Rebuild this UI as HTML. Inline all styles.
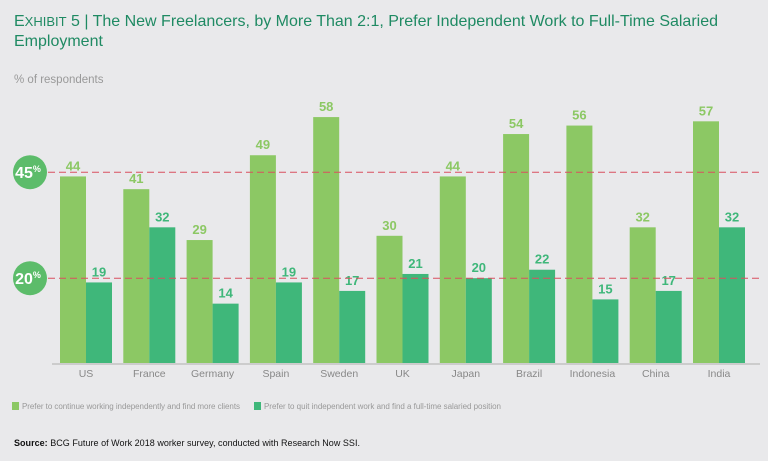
<!DOCTYPE html>
<html><head><meta charset="utf-8"><style>
body{margin:0;width:768px;height:461px;background:#e9e9eb;font-family:"Liberation Sans",sans-serif;overflow:hidden}
svg{display:block}
</style></head><body>
<svg width="768" height="461">
<text x="14" y="26" font-size="16" fill="#1f8a63" textLength="704">E<tspan font-size="13">XHIBIT</tspan> 5 | The New Freelancers, by More Than 2:1, Prefer Independent Work to Full-Time Salaried</text>
<text x="14" y="46" font-size="16" fill="#1f8a63">Employment</text>
<text x="14" y="83" font-size="11.5" fill="#999">% of respondents</text>
<g id="bars"></g>
<g id="refs"></g>
<rect x="12" y="402" width="7" height="8" fill="#8cc864"/>
<text x="22" y="409" font-size="8" fill="#999" textLength="218">Prefer to continue working independently and find more clients</text>
<rect x="254" y="402" width="7" height="8" fill="#3fb77a"/>
<text x="264" y="409" font-size="8" fill="#999" textLength="237">Prefer to quit independent work and find a full-time salaried position</text>
<text x="14" y="446" font-size="9" fill="#111" textLength="346"><tspan font-weight="bold">Source:</tspan> BCG Future of Work 2018 worker survey, conducted with Research Now SSI.</text>
</svg>
<script>
const categories=["US","France","Germany","Spain","Sweden","UK","Japan","Brazil","Indonesia","China","India"];
const independent=[44,41,29,49,58,30,44,54,56,32,57];
const fulltime=[19,32,14,19,17,21,20,22,15,17,32];
const refLines=[45,20];
const NS="http://www.w3.org/2000/svg";
const base=363,scale=4.24,x0=60,step=63.3,bw=26;
const y=v=>base-v*scale;
const xg=i=>x0+i*step;
function mk(t,a,p){const e=document.createElementNS(NS,t);for(const k in a)e.setAttribute(k,a[k]);p.appendChild(e);return e;}
const g=document.getElementById('bars');
categories.forEach((c,i)=>{
  const x=xg(i);
  const b1=mk('rect',{x:x,y:y(independent[i]),width:bw,height:independent[i]*scale,fill:'#8cc864'},g);
  
  
  const b2=mk('rect',{x:x+bw,y:y(fulltime[i]),width:bw,height:fulltime[i]*scale,fill:'#3fb77a'},g);
  
  
  const t1=mk('text',{x:x+bw/2,y:y(independent[i])-6,'font-size':13,'font-weight':'bold',fill:'#8cc864','text-anchor':'middle'},g);
  t1.textContent=independent[i];
  
  
  const t2=mk('text',{x:x+bw*1.5,y:y(fulltime[i])-6,'font-size':13,'font-weight':'bold',fill:'#3fb77a','text-anchor':'middle'},g);
  t2.textContent=fulltime[i];
  
  
  const l=mk('text',{x:x+bw,y:377,'font-size':10.5,fill:'#888','text-anchor':'middle'},g);
  l.textContent=c;
  
  
});
const bl=mk('rect',{x:52,y:base,width:708,height:2,fill:'#ccc'},g);


const r=document.getElementById('refs');
refLines.forEach(v=>{
  const ln=mk('line',{x1:48,x2:760,y1:y(v),y2:y(v),stroke:'#d9505f','stroke-width':1,'stroke-dasharray':'7,4'},r);
  
  
  const ci=mk('circle',{cx:30,cy:y(v),r:17,fill:'#5cbc6a'},r);
  
  
  const t=mk('text',{x:28,y:y(v)+6,'font-size':16,'font-weight':'bold',fill:'#fff','text-anchor':'middle'},r);
  t.textContent=v;
  const s=mk('tspan',{'font-size':9,dy:-6},t);s.textContent='%';
  
  
});
</script>
</body></html>
